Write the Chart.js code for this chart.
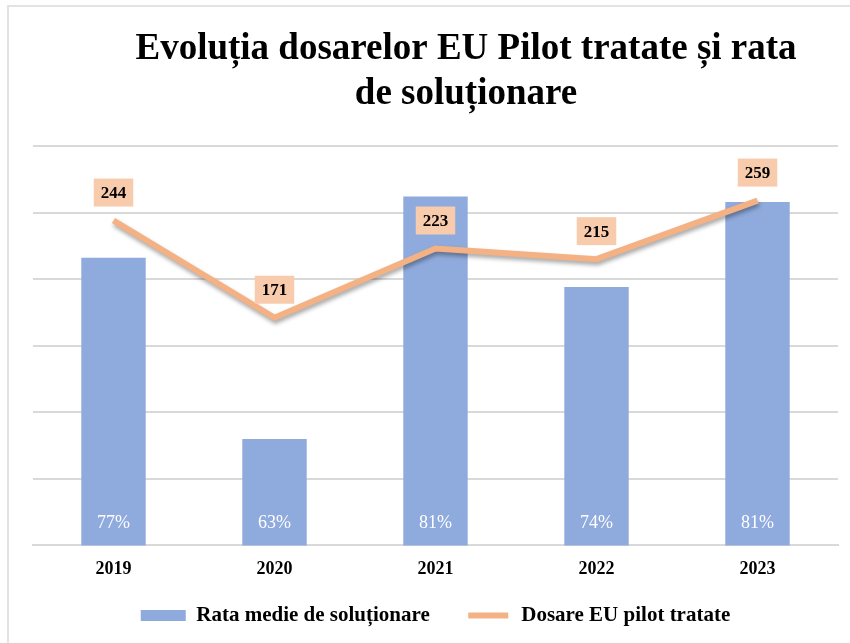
<!DOCTYPE html>
<html>
<head>
<meta charset="utf-8">
<script src="https://cdn.jsdelivr.net/npm/chart.js@4/dist/chart.umd.min.js"></script>
<style>
html,body{margin:0;padding:0;background:#fff;}
#wrap{width:850px;height:643px;position:relative;}
</style>
</head>
<body>
<div id="wrap"><canvas id="c" width="850" height="643"></canvas></div>
<script>
const categories = ['2019', '2020', '2021', '2022', '2023'];
const rateValues = [76.6, 63.0, 81.2, 74.4, 80.8];
const rateLabels = ['77%', '63%', '81%', '74%', '81%'];
const dosareValues = [244, 171, 223, 215, 259];
const titleLines = ['Evoluția dosarelor EU Pilot tratate și rata', 'de soluționare'];
const seriesNames = ['Rata medie de soluționare', 'Dosare EU pilot tratate'];

const SERIF = '"Liberation Serif", "DejaVu Serif", serif';
const BAR_COLOR = '#8FAADC';
const LINE_COLOR = '#F4B183';
const LABEL_BG = '#F8CBAD';

const framePlugin = {
  id: 'frame',
  afterLayout(chart) {
    const l = chart.legend;
    if (l) { l.top -= 24; l.height = l.bottom - l.top; }
  },
  beforeDraw(chart) {
    const ctx = chart.ctx;
    ctx.save();
    ctx.fillStyle = '#fff';
    ctx.fillRect(0, 0, chart.width, chart.height);
    ctx.strokeStyle = '#E3E3E3';
    ctx.lineWidth = 2;
    ctx.beginPath();
    ctx.moveTo(8, chart.height);
    ctx.lineTo(8, 6);
    ctx.lineTo(chart.width, 6);
    ctx.stroke();
    // title
    ctx.fillStyle = '#000';
    ctx.font = 'bold 37px ' + SERIF;
    ctx.textAlign = 'center';
    ctx.textBaseline = 'alphabetic';
    ctx.fillText(titleLines[0], 466, 59);
    ctx.fillText(titleLines[1], 466, 104);
    ctx.restore();
  }
};

const shadowPlugin = {
  id: 'lineShadow',
  beforeDatasetDraw(chart, args) {
    if (chart.data.datasets[args.index].type === 'line') {
      const ctx = chart.ctx;
      ctx.save();
      ctx.shadowColor = 'rgba(0,0,0,0.35)';
      ctx.shadowBlur = 4;
      ctx.shadowOffsetX = 1;
      ctx.shadowOffsetY = 3;
    }
  },
  afterDatasetDraw(chart, args) {
    if (chart.data.datasets[args.index].type === 'line') {
      chart.ctx.restore();
    }
  }
};

const labelPlugin = {
  id: 'valueLabels',
  afterDatasetsDraw(chart) {
    const ctx = chart.ctx;
    const bottom = chart.chartArea.bottom;
    ctx.save();
    // bar labels
    const barMeta = chart.getDatasetMeta(0);
    ctx.font = '18px ' + SERIF;
    ctx.fillStyle = '#fff';
    ctx.textAlign = 'center';
    ctx.textBaseline = 'middle';
    barMeta.data.forEach((el, i) => {
      ctx.fillText(rateLabels[i], el.x, bottom - 22);
    });
    // line labels
    const lineMeta = chart.getDatasetMeta(1);
    ctx.font = 'bold 17px ' + SERIF;
    lineMeta.data.forEach((el, i) => {
      const txt = String(dosareValues[i]);
      const w = ctx.measureText(txt).width + 14;
      const h = 28;
      const cy = el.y - 28;
      ctx.fillStyle = LABEL_BG;
      ctx.fillRect(el.x - w / 2, cy - h / 2, w, h);
      ctx.fillStyle = '#000';
      ctx.fillText(txt, el.x, cy + 1);
    });
    ctx.restore();
  }
};

new Chart(document.getElementById('c'), {
  data: {
    labels: categories,
    datasets: [
      {
        type: 'bar',
        label: seriesNames[0],
        data: rateValues,
        backgroundColor: BAR_COLOR,
        yAxisID: 'yRate',
        order: 1,
        barPercentage: 0.4,
        categoryPercentage: 1.0
      },
      {
        type: 'line',
        label: seriesNames[1],
        data: dosareValues,
        borderColor: LINE_COLOR,
        backgroundColor: LINE_COLOR,
        borderWidth: 6,
        pointRadius: 0,
        tension: 0,
        yAxisID: 'y',
        order: 0
      }
    ]
  },
  options: {
    responsive: false,
    animation: false,
    devicePixelRatio: 1,
    layout: { padding: { left: 33, right: 12, top: 146, bottom: 8 } },
    plugins: {
      title: { display: false },
      tooltip: { enabled: false },
      legend: {
        position: 'bottom',
        maxHeight: 42,
        labels: {
          font: { family: SERIF, size: 21, weight: 'bold' },
          color: '#000',
          boxWidth: 45,
          boxHeight: 11,
          padding: 36,
          sort: (a, b) => a.datasetIndex - b.datasetIndex,
          generateLabels(chart) {
            return [
              { text: seriesNames[0], fillStyle: BAR_COLOR, strokeStyle: BAR_COLOR, lineWidth: 0, datasetIndex: 0, hidden: false },
              { text: seriesNames[1], fillStyle: LINE_COLOR, strokeStyle: '#fff', lineWidth: 5, datasetIndex: 1, hidden: false }
            ];
          }
        }
      }
    },
    scales: {
      x: {
        grid: { display: false, drawTicks: false },
        border: { display: true, color: '#D9D9D9', width: 2 },
        ticks: { font: { family: SERIF, size: 18, weight: 'bold' }, color: '#000', padding: 13 }
      },
      y: {
        position: 'left',
        min: 0, max: 300,
        ticks: { display: false, stepSize: 50 },
        grid: { color: '#D9D9D9', lineWidth: 2, drawTicks: false },
        border: { display: false }
      },
      yRate: {
        display: false,
        min: 55, max: 85,
        ticks: { stepSize: 5 }
      }
    }
  },
  plugins: [framePlugin, shadowPlugin, labelPlugin]
});
</script>
</body>
</html>
